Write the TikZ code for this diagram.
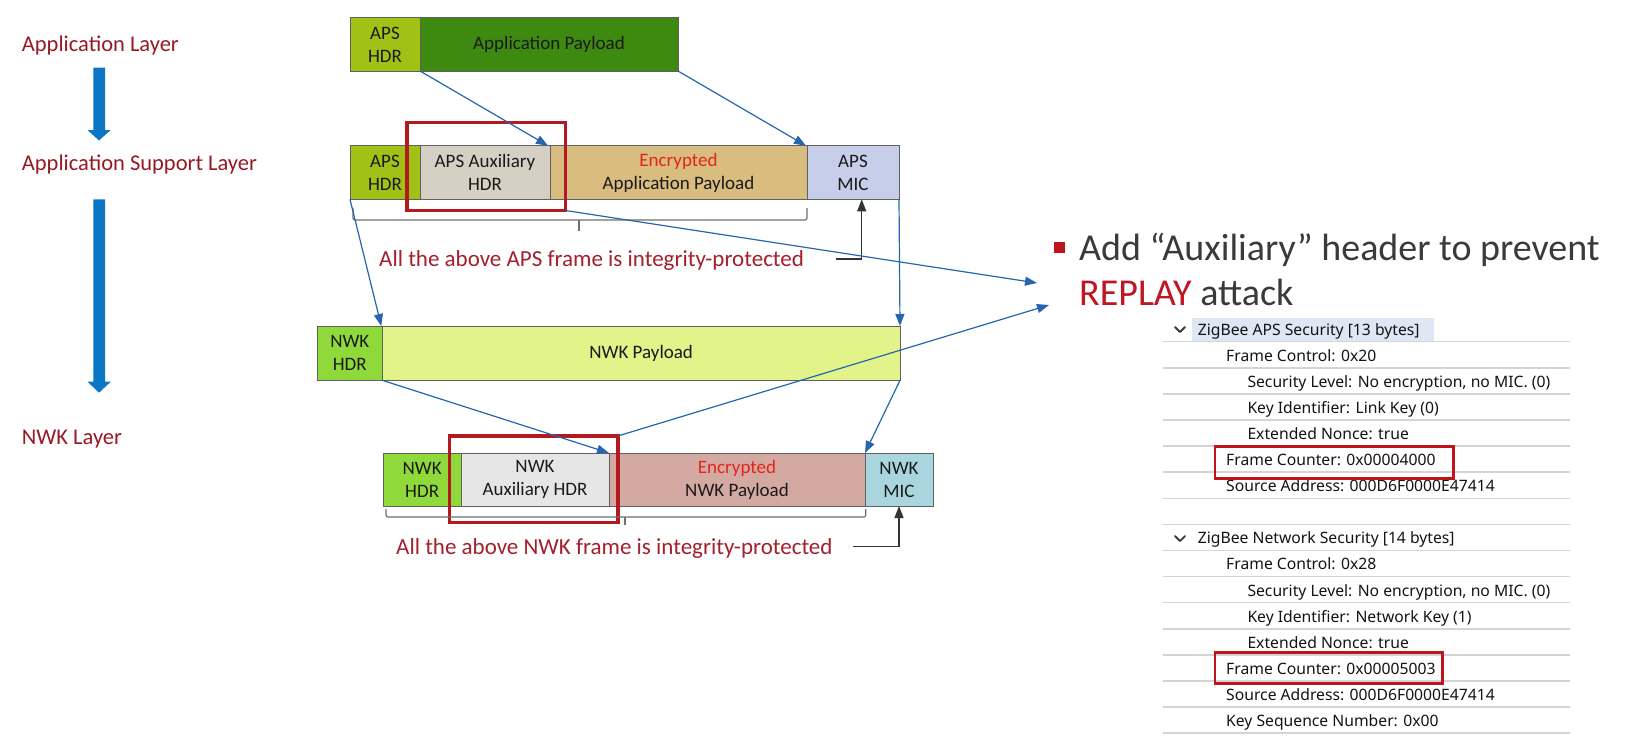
\documentclass[tikz,border=0pt]{standalone}
\usepackage{fontspec}
\setmainfont{Carlito}
\newfontfamily\wsfont{Noto Sans}
\usetikzlibrary{arrows.meta}
\definecolor{boxline}{HTML}{606060}
\definecolor{boxtext}{HTML}{1A1A1A}
\definecolor{apshdr}{HTML}{A2C116}
\definecolor{apppay}{HTML}{3E8A10}
\definecolor{apsaux}{HTML}{D6D0C4}
\definecolor{apsenc}{HTML}{D9BC80}
\definecolor{apsmic}{HTML}{C6CEEA}
\definecolor{nwkhdr}{HTML}{8FD93B}
\definecolor{nwkpay}{HTML}{E2F38A}
\definecolor{nwkaux}{HTML}{E6E6E6}
\definecolor{nwkenc}{HTML}{D4A9A2}
\definecolor{nwkmic}{HTML}{A9D6DE}
\definecolor{encred}{HTML}{E3261C}
\definecolor{labred}{HTML}{981A24}
\definecolor{intred}{HTML}{A3202C}
\definecolor{redc}{HTML}{B3191F}
\definecolor{connblue}{HTML}{2566AE}
\definecolor{larrowc}{HTML}{0B76C5}
\definecolor{bracec}{HTML}{707070}
\definecolor{blackc}{HTML}{333333}
\definecolor{rgray}{HTML}{3A3A3A}
\definecolor{replayred}{HTML}{BE1622}
\definecolor{wstext}{HTML}{141414}
\definecolor{wssep}{HTML}{D4D4D4}
\definecolor{wshl}{HTML}{DDE8F4}
\definecolor{wsred}{HTML}{C0141C}
\begin{document}
\begin{tikzpicture}[x=1pt,y=-1pt,
  box/.style={draw=boxline, line width=1pt, inner sep=0pt, outer sep=0pt, anchor=north west,
    align=center, text=boxtext, font=\fontsize{19}{23}\selectfont},
  redbox/.style={draw=redc, line width=3.5pt, inner sep=0pt, outer sep=0pt, anchor=north west},
  conn/.style={draw=connblue, line width=1.2pt, -{Triangle[length=12pt,width=9pt]}},
  blackarrow/.style={draw=blackc, line width=1.3pt, -{Triangle[length=12pt,width=9pt]}},
  bracepath/.style={draw=bracec, line width=1.2pt, rounded corners=2pt},
  layerlabel/.style={anchor=base west, inner sep=0pt, text=labred, font=\fontsize{22.5}{27}\selectfont},
  inttext/.style={anchor=base west, inner sep=0pt, text=intred, font=\fontsize{23}{27}\selectfont},
  ws/.style={anchor=base west, inner sep=0pt, text=wstext, font=\wsfont\fontsize{15.7}{19}\selectfont},
  wsbox/.style={draw=wsred, line width=2.5pt, inner sep=0pt, outer sep=0pt, anchor=north west},
  sepline/.style={draw=wssep, line width=1.5pt},
  chev/.style={draw=rgray, line width=1.8pt, line cap=round, line join=round}
]
\useasboundingbox[fill=white] (0,0) rectangle (1630,755);

% left layer labels
\node[layerlabel] (l1) at (21.7,51.7) {Application Layer};
\node[layerlabel] (l2) at (21.7,170) {Application Support Layer};
\node[layerlabel] (l3) at (21.7,444) {NWK Layer};
\fill[larrowc] (93.3,67.7) -- (105,67.7) -- (105,130) -- (110.7,130) -- (99,140.5) -- (87.5,130) -- (93.3,130) -- cycle;
\fill[larrowc] (93.3,199.3) -- (105,199.3) -- (105,381.7) -- (110.7,381.7) -- (99,392.7) -- (87.5,381.7) -- (93.3,381.7) -- cycle;

% row 1
\node[box, fill=apshdr, minimum width=70pt, minimum height=53.3pt] (ah1) at (350,17.7) {APS\\HDR};
\node[box, fill=apppay, minimum width=258pt, minimum height=53.3pt] (ap1) at (420,17.7) {Application Payload};

% row 2
\node[box, fill=apshdr, minimum width=70pt, minimum height=53.6pt] (ah2) at (350,145.7) {APS\\HDR};
\node[box, fill=apsaux, minimum width=130pt, minimum height=53.6pt] (aux2) at (420,145.7) {APS Auxiliary\\HDR};
\node[box, fill=apsenc, minimum width=257pt, minimum height=53.6pt] (enc2) at (550,145.7) {{\color{encred}Encrypted}\\Application Payload};
\node[box, fill=apsmic, minimum width=92pt, minimum height=53.6pt] (mic2) at (807,145.7) {APS\\MIC};

% row 3
\node[box, fill=nwkhdr, minimum width=65pt, minimum height=54.3pt] (nh3) at (317.3,326) {NWK\\HDR};
\node[box, fill=nwkpay, minimum width=517.7pt, minimum height=54.3pt] (np3) at (382.3,326) {NWK Payload};

% row 4
\node[box, fill=nwkhdr, minimum width=77.7pt, minimum height=53pt] (nh4) at (383.3,453) {NWK\\HDR};
\node[box, fill=nwkaux, minimum width=148pt, minimum height=53pt] (aux4) at (461,453) {NWK\\Auxiliary HDR};
\node[box, fill=nwkenc, minimum width=256pt, minimum height=53pt] (enc4) at (609,453) {{\color{encred}Encrypted}\\NWK Payload};
\node[box, fill=nwkmic, minimum width=68pt, minimum height=53pt] (mic4) at (865,453) {NWK\\MIC};

% red highlight boxes
\node[redbox, minimum width=158.5pt, minimum height=88pt] (rb1) at (407,122.5) {};
\node[redbox, minimum width=168.5pt, minimum height=86.5pt] (rb2) at (449.3,436) {};

% braces
\draw[bracepath] (353,208) -- (353,220) -- (807,220) -- (807,208);
\draw[bracec, line width=1.2pt] (579,220) -- (579,231);
\draw[bracepath] (386,509) -- (386,517) -- (865.7,517) -- (865.7,509);
\draw[bracec, line width=1.2pt] (625,517) -- (625,525);

% integrity texts
\node[inttext] (it1) at (379,266.4) {All the above APS frame is integrity-protected};
\node[inttext] (it2) at (396,554.2) {All the above NWK frame is integrity-protected};

% black arrows to MICs
\coordinate (ba1s) at (836,259);
\coordinate (ba1c) at (861.7,259);
\draw[blackarrow] (ba1s) -- (ba1c) -- (ba1c |- mic2.south);
\coordinate (ba2s) at (853,546.7);
\draw[blackarrow] (ba2s) -| (mic4.south);

% right bullet text
\fill[wsred] (1054,241.7) rectangle (1065,253.3);
\node[anchor=base west, inner sep=0pt, text=rgray, font=\fontsize{38}{45}\selectfont] (rt1) at (1079,260) {Add “Auxiliary” header to prevent};
\node[anchor=base west, inner sep=0pt, text=rgray, font=\fontsize{38}{45}\selectfont] (rt2) at (1079,305) {{\color{replayred}REPLAY} attack};

% blue connectors
\coordinate (t1) at (1037,283);
\coordinate (t2) at (1049,305);
\draw[conn] (ah1.south east) -- ([xshift=-2pt]aux2.north east);
\draw[conn] (ap1.south east) -- ([xshift=-1pt]enc2.north east);
\draw[conn] (ah2.south west) -- ([xshift=-1pt]nh3.north east);
\draw[conn] (mic2.south east) -- (np3.north east);
\draw[conn] (nh3.south east) -- (aux4.north east);
\draw[conn] (np3.south east) -- (enc4.north east);
\draw[conn] (rb1.south east) -- (t1);
\draw[conn] (rb2.north east) -- (t2);

% wireshark panel
\fill[wshl] (1191.7,318) rectangle (1434,341);
\foreach \i in {0,...,15} {
  \draw[sepline] (1163,{341.7+26.1*\i}) -- (1570,{341.7+26.1*\i});
}
\draw[chev] (1175,327) -- (1180,332) -- (1185,327);
\draw[chev] (1175,536) -- (1180,541) -- (1185,536);
\node[ws] (w0) at (1197.7,335) {ZigBee APS Security [13 bytes]};
\node[ws] (w1) at (1226,361.1) {Frame Control: 0x20};
\node[ws] (w2) at (1247.3,387.2) {Security Level: No encryption, no MIC. (0)};
\node[ws] (w3) at (1247.3,413.3) {Key Identifier: Link Key (0)};
\node[ws] (w4) at (1247.3,439.4) {Extended Nonce: true};
\node[ws] (w5) at (1226,465.5) {Frame Counter: 0x00004000};
\node[ws] (w6) at (1226,491.6) {Source Address: 000D6F0000E47414};
\node[ws] (w8) at (1197.7,543.8) {ZigBee Network Security [14 bytes]};
\node[ws] (w9) at (1226,569.9) {Frame Control: 0x28};
\node[ws] (w10) at (1247.3,596) {Security Level: No encryption, no MIC. (0)};
\node[ws] (w11) at (1247.3,622.1) {Key Identifier: Network Key (1)};
\node[ws] (w12) at (1247.3,648.2) {Extended Nonce: true};
\node[ws] (w13) at (1226,674.3) {Frame Counter: 0x00005003};
\node[ws] (w14) at (1226,700.4) {Source Address: 000D6F0000E47414};
\node[ws] (w15) at (1226,726.5) {Key Sequence Number: 0x00};
\node[wsbox, minimum width=238.3pt, minimum height=31.6pt] (fc1) at (1215,446.7) {};
\node[wsbox, minimum width=227.7pt, minimum height=30.6pt] (fc2) at (1215,652.7) {};
\end{tikzpicture}
\end{document}
